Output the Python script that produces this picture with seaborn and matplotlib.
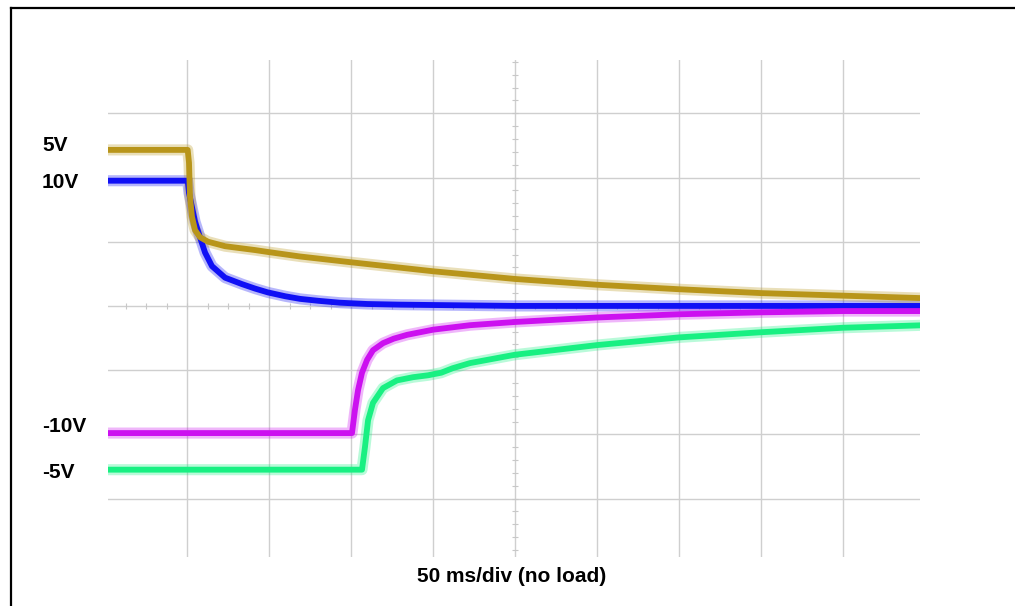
import numpy as np
import pandas as pd
import matplotlib
matplotlib.use('Agg')
import matplotlib.pyplot as plt
from matplotlib.lines import Line2D
import seaborn as sns

t_5v = [0, 50.4, 51.2, 51.8, 53.0, 54.9, 57.9, 62.8, 73.2, 91.5, 99.4, 118.9, 150, 200, 250, 300, 350, 400, 450, 500]
v_5v = [2.43, 2.43, 2.23, 1.70, 1.39, 1.18, 1.07, 1.00, 0.93, 0.87, 0.84, 0.77, 0.68, 0.54, 0.42, 0.33, 0.26, 0.20, 0.16, 0.12]

t_10v = [0, 50.4, 51.2, 53.0, 54.9, 57.9, 61.0, 65.2, 73.2, 83.5, 91.5, 99.4, 110, 118.9, 130, 143.3, 160, 180, 250, 500]
v_10v = [1.95, 1.95, 1.76, 1.54, 1.31, 1.07, 0.83, 0.62, 0.44, 0.34, 0.27, 0.21, 0.15, 0.11, 0.08, 0.05, 0.03, 0.02, 0.0, 0.0]

t_m10v = [0, 150.6, 152.4, 154.3, 156.7, 159.8, 163.4, 169.5, 176, 184.2, 200, 222.6, 250, 300, 350, 400, 450, 500]
v_m10v = [-1.98, -1.98, -1.62, -1.31, -1.04, -0.84, -0.69, -0.58, -0.51, -0.45, -0.37, -0.30, -0.25, -0.18, -0.13, -0.10, -0.08, -0.08]

t_m5v = [0, 156.7, 158.5, 160.4, 163.4, 169.5, 178.0, 187.8, 197, 205, 212, 222.6, 250, 300, 350, 400, 450, 500]
v_m5v = [-2.55, -2.55, -2.20, -1.78, -1.51, -1.28, -1.16, -1.11, -1.08, -1.04, -0.97, -0.89, -0.76, -0.61, -0.49, -0.41, -0.34, -0.30]

canales = ['10V', '5V', '-10V', '-5V']
colores = {'5V': '#b8951a', '10V': '#1010f5', '-10V': '#cc10f0', '-5V': '#18f082'}

# Armo un dataframe largo para seaborn
df = pd.concat([
    pd.DataFrame({'t': t_10v, 'v': v_10v, 'canal': '10V'}),
    pd.DataFrame({'t': t_5v, 'v': v_5v, 'canal': '5V'}),
    pd.DataFrame({'t': t_m10v, 'v': v_m10v, 'canal': '-10V'}),
    pd.DataFrame({'t': t_m5v, 'v': v_m5v, 'canal': '-5V'}),
], ignore_index=True)

plt.rcParams['font.family'] = ['Liberation Sans', 'DejaVu Sans']

fig = plt.figure(figsize=(10.15, 6.06), dpi=100)
ax = fig.add_axes([108 / 1015, 1 - 557 / 606, (920 - 108) / 1015, (557 - 60) / 606])

# Grilla del osciloscopio
for x in np.arange(50, 451, 50):
    ax.axvline(x, color='#cfcfcf', lw=1.0, zorder=0)
for y in np.arange(-3, 4, 1):
    ax.axhline(y, color='#cfcfcf', lw=1.0, zorder=0)

# Marcas menores sobre los ejes centrales
ty = np.arange(-3.8, 3.81, 0.2)
ax.plot(np.full_like(ty, 250), ty, ls='none', marker='_', ms=5, mew=0.8, color='#c8c8c8', zorder=0)
tx = np.arange(12.5, 500, 12.5)
ax.plot(tx, np.zeros_like(tx), ls='none', marker='|', ms=5, mew=0.8, color='#c8c8c8', zorder=0)

# Trazas: capa difusa + linea central
for c in canales:
    d = df[df['canal'] == c]
    sns.lineplot(data=d, x='t', y='v', color=colores[c], lw=8, alpha=0.3,
                 estimator=None, sort=False, ax=ax, zorder=2)
    sns.lineplot(data=d, x='t', y='v', color=colores[c], lw=4.2,
                 estimator=None, sort=False, ax=ax, zorder=3)

ax.set_xlim(1.8, 497)
ax.set_ylim(-3.91, 3.83)
ax.set_xlabel('')
ax.set_ylabel('')
ax.set_xticks([])
ax.set_yticks([])
for s in ax.spines.values():
    s.set_visible(False)

# Etiquetas de canales
fs = 15
fig.text(42 / 1015, 1 - 145 / 606, '5V', fontsize=fs, fontweight='bold', va='center', ha='left')
fig.text(42 / 1015, 1 - 182 / 606, '10V', fontsize=fs, fontweight='bold', va='center', ha='left')
fig.text(42 / 1015, 1 - 427 / 606, '-10V', fontsize=fs, fontweight='bold', va='center', ha='left')
fig.text(42 / 1015, 1 - 472 / 606, '-5V', fontsize=fs, fontweight='bold', va='center', ha='left')
fig.text(512 / 1015, 1 - 577 / 606, '50 ms/div (no load)', fontsize=fs, fontweight='bold', va='center', ha='center')

# Marco (solo arriba e izquierda son visibles)
fig.add_artist(Line2D([11 / 1015, 1], [1 - 8 / 606, 1 - 8 / 606], color='black', lw=1.6, transform=fig.transFigure))
fig.add_artist(Line2D([11 / 1015, 11 / 1015], [0, 1 - 8 / 606], color='black', lw=1.6, transform=fig.transFigure))

fig.savefig('out.png', dpi=100)
